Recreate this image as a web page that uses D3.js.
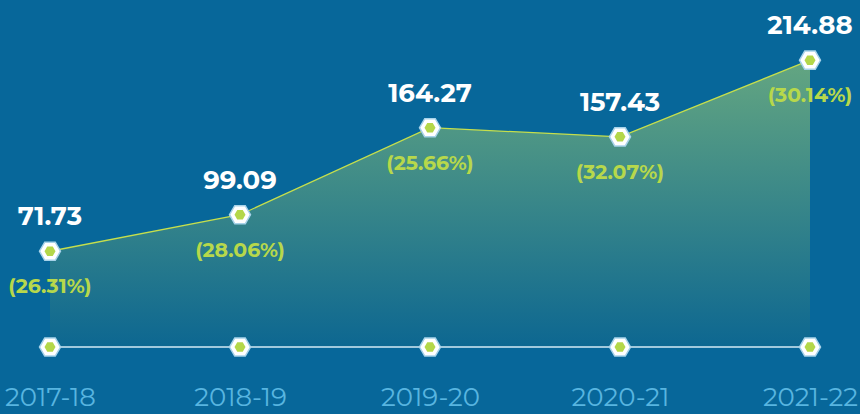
<!DOCTYPE html>
<html>
<head>
<meta charset="utf-8">
<script src="https://cdn.jsdelivr.net/npm/d3@7"></script>
<style>
  html, body { margin: 0; padding: 0; background: #07679a; overflow: hidden; }
  svg { display: block; }
</style>
</head>
<body>
<div id="chart"></div>
<script>
// chart data
var years = ["2017-18", "2018-19", "2019-20", "2020-21", "2021-22"];
var values = [71.73, 99.09, 164.27, 157.43, 214.88];
var growth = ["(26.31%)", "(28.06%)", "(25.66%)", "(32.07%)", "(30.14%)"];

var width = 860, height = 414;
var baseY = 347;

var svg = d3.select("#chart")
  .append("svg")
  .attr("width", width)
  .attr("height", height);

var x = d3.scalePoint()
  .domain(years)
  .range([50, 810]);

var y = d3.scaleLinear()
  .domain([0, 215])
  .range([baseY, 60]);

var data = years.map(function(d, i) { return {year: d, value: values[i], growth: growth[i]}; });

// gradient for the area
var defs = svg.append("defs");
var grad = defs.append("linearGradient")
  .attr("id", "areaGrad")
  .attr("gradientUnits", "userSpaceOnUse")
  .attr("x1", 0).attr("x2", 0)
  .attr("y1", y(215)).attr("y2", y(0));
grad.append("stop").attr("offset", "0%").attr("stop-color", "#64a681");
grad.append("stop").attr("offset", "100%").attr("stop-color", "#0d6791");

var area = d3.area()
  .x(d => x(d.year))
  .y0(y(0))
  .y1(d => y(d.value));

var line = d3.line()
  .x(d => x(d.year))
  .y(d => y(d.value));

svg.append("path")
  .datum(data)
  .attr("d", area)
  .attr("fill", "url(#areaGrad)");

svg.append("path")
  .datum(data)
  .attr("d", line)
  .attr("fill", "none")
  .attr("stroke", "#c6df4c")
  .attr("stroke-width", 1.3);

// baseline
svg.append("line")
  .attr("x1", x(years[0])).attr("x2", x(years[years.length - 1]))
  .attr("y1", y(0)).attr("y2", y(0))
  .attr("stroke", "#d4eaf4")
  .attr("stroke-width", 1.6);

// hexagon markers
function hexPath(r) {
  var pts = d3.range(6).map(function(k) {
    var a = Math.PI / 3 * k;
    return [r * Math.cos(a), r * Math.sin(a)];
  });
  return "M" + pts.join("L") + "Z";
}

function drawMarkers(cy) {
  var g = svg.append("g")
    .selectAll("g")
    .data(data)
    .join("g")
    .attr("transform", d => "translate(" + x(d.year) + "," + cy(d) + ")");
  g.append("path")
    .attr("d", hexPath(10.5))
    .attr("fill", "#ffffff")
    .attr("stroke", "#a8d3ea")
    .attr("stroke-width", 1.5);
  g.append("path")
    .attr("d", hexPath(5.5))
    .attr("fill", "#b4d74a");
}
drawMarkers(d => y(0));
drawMarkers(d => y(d.value));

// value labels
svg.append("g")
  .selectAll("text")
  .data(data)
  .join("text")
  .attr("x", d => x(d.year))
  .attr("y", d => y(d.value) - 26)
  .attr("text-anchor", "middle")
  .attr("font-family", "Montserrat, 'Open Sans', sans-serif")
  .attr("font-weight", 700)
  .attr("font-size", 26)
  .attr("fill", "#ffffff")
  .text(d => d.value.toFixed(2));

// growth labels
svg.append("g")
  .selectAll("text")
  .data(data)
  .join("text")
  .attr("x", d => x(d.year))
  .attr("y", d => y(d.value) + 42)
  .attr("text-anchor", "middle")
  .attr("font-family", "Montserrat, 'Open Sans', sans-serif")
  .attr("font-weight", 700)
  .attr("font-size", 20.5)
  .attr("fill", "#b7d84b")
  .text(d => d.growth);

// x axis labels
var xAxis = g => g
  .attr("transform", "translate(0," + (y(0)) + ")")
  .call(d3.axisBottom(x).tickSize(0).tickPadding(41))
  .call(g => g.select(".domain").remove())
  .call(g => g.selectAll("text")
    .attr("font-family", "Montserrat, 'Open Sans', sans-serif")
    .attr("font-weight", 400)
    .attr("font-size", 26)
    .attr("fill", "#58b5e0"));

svg.append("g").call(xAxis);
</script>
</body>
</html>
